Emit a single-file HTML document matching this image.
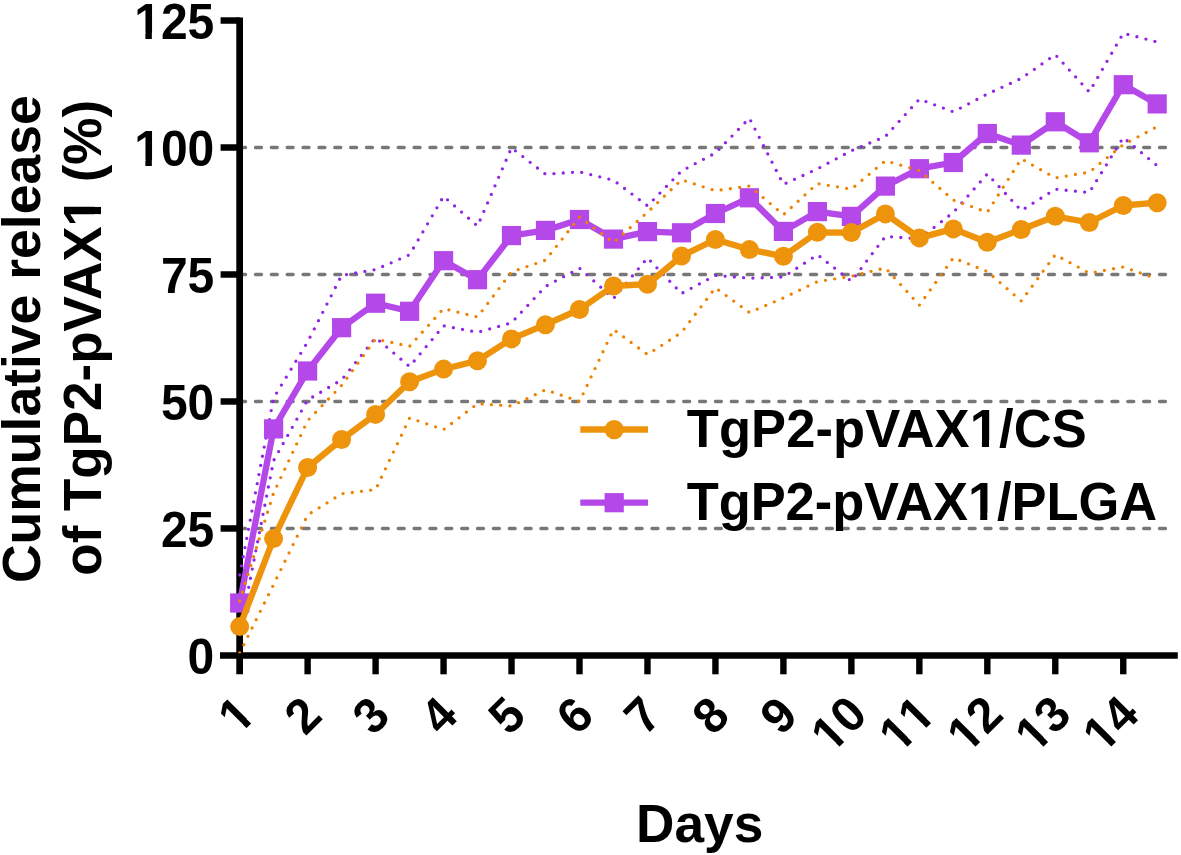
<!DOCTYPE html>
<html lang="en"><head><meta charset="utf-8"><title>Cumulative release of TgP2-pVAX1</title>
<style>
html,body{margin:0;padding:0;background:#fff;}
svg{display:block;}
text{font-family:"Liberation Sans", Arial, Helvetica, sans-serif;font-weight:700;fill:#000;}
.d text{font-kerning:none;}
</style></head><body>
<svg width="1181" height="855" viewBox="0 0 1181 855">
<rect width="1181" height="855" fill="#fff"/>

<g stroke="#777777" stroke-width="3.4" stroke-linecap="round" stroke-dasharray="5.9 9.96" fill="none">
<line x1="239.65" y1="528.46" x2="1168" y2="528.46"/>
<line x1="239.65" y1="401.48" x2="1168" y2="401.48"/>
<line x1="239.65" y1="274.49" x2="1168" y2="274.49"/>
<line x1="239.65" y1="147.50" x2="1168" y2="147.50"/>
</g>
<g stroke="#000" fill="none" stroke-linecap="butt">
<line x1="239.65" y1="17.4" x2="239.65" y2="674.3" stroke-width="6.7"/>
<line x1="220" y1="655.45" x2="1177.8" y2="655.45" stroke-width="6.4"/>
<line x1="220.6" y1="528.46" x2="239.65" y2="528.46" stroke-width="6.5"/>
<line x1="220.6" y1="401.48" x2="239.65" y2="401.48" stroke-width="6.5"/>
<line x1="220.6" y1="274.49" x2="239.65" y2="274.49" stroke-width="6.5"/>
<line x1="220.6" y1="147.50" x2="239.65" y2="147.50" stroke-width="6.5"/>
<line x1="220.6" y1="20.51" x2="239.65" y2="20.51" stroke-width="6.5"/>
<line x1="307.62" y1="655.45" x2="307.62" y2="674.3" stroke-width="6.4"/>
<line x1="375.59" y1="655.45" x2="375.59" y2="674.3" stroke-width="6.4"/>
<line x1="443.56" y1="655.45" x2="443.56" y2="674.3" stroke-width="6.4"/>
<line x1="511.53" y1="655.45" x2="511.53" y2="674.3" stroke-width="6.4"/>
<line x1="579.50" y1="655.45" x2="579.50" y2="674.3" stroke-width="6.4"/>
<line x1="647.47" y1="655.45" x2="647.47" y2="674.3" stroke-width="6.4"/>
<line x1="715.44" y1="655.45" x2="715.44" y2="674.3" stroke-width="6.4"/>
<line x1="783.41" y1="655.45" x2="783.41" y2="674.3" stroke-width="6.4"/>
<line x1="851.38" y1="655.45" x2="851.38" y2="674.3" stroke-width="6.4"/>
<line x1="919.35" y1="655.45" x2="919.35" y2="674.3" stroke-width="6.4"/>
<line x1="987.32" y1="655.45" x2="987.32" y2="674.3" stroke-width="6.4"/>
<line x1="1055.29" y1="655.45" x2="1055.29" y2="674.3" stroke-width="6.4"/>
<line x1="1123.26" y1="655.45" x2="1123.26" y2="674.3" stroke-width="6.4"/>
</g>
<clipPath id="plotclip"><rect x="0" y="0" width="1181" height="653.2"/></clipPath>
<g clip-path="url(#plotclip)">
<g fill="none" stroke="#9024E6" stroke-width="3.3" stroke-linecap="round" stroke-dasharray="0 9.3" stroke-linejoin="round">
<polyline points="239.7,575.0 273.6,398.0 307.6,342.0 341.6,275.4 375.6,269.6 409.6,254.7 443.6,196.3 477.5,226.1 511.5,147.8 545.5,174.2 579.5,171.9 613.5,180.2 647.5,205.8 681.5,171.0 715.4,153.0 749.4,118.2 783.4,184.4 817.4,168.9 851.4,150.7 885.4,136.5 919.4,99.1 953.3,111.8 987.3,94.0 1021.3,78.4 1055.3,54.6 1089.3,92.0 1123.3,33.2 1157.2,42.0"/>
<polyline points="239.7,633.0 273.6,460.6 307.6,400.0 341.6,379.8 375.6,337.7 409.6,366.5 443.6,325.8 477.5,332.3 511.5,322.8 545.5,286.4 579.5,268.2 613.5,298.5 647.5,257.9 681.5,293.5 715.4,275.4 749.4,278.2 783.4,277.0 817.4,254.7 851.4,281.2 885.4,236.4 919.4,238.8 953.3,212.5 987.3,174.0 1021.3,210.6 1055.3,189.2 1089.3,192.5 1123.3,137.5 1157.2,165.7"/>
</g>
<polyline points="239.7,603.0 273.6,428.9 307.6,371.0 341.6,327.7 375.6,303.2 409.6,311.3 443.6,260.7 477.5,279.7 511.5,235.6 545.5,230.4 579.5,219.5 613.5,239.1 647.5,231.6 681.5,232.8 715.4,213.5 749.4,197.8 783.4,231.4 817.4,211.6 851.4,216.4 885.4,186.1 919.4,168.7 953.3,162.5 987.3,133.5 1021.3,145.1 1055.3,121.8 1089.3,142.8 1123.3,84.7 1157.2,103.9" fill="none" stroke="#B548E8" stroke-width="6.3" stroke-linejoin="round"/>
<g fill="#B548E8">
<rect x="230.1" y="593.4" width="19.2" height="19.2"/>
<rect x="264.0" y="419.3" width="19.2" height="19.2"/>
<rect x="298.0" y="361.4" width="19.2" height="19.2"/>
<rect x="332.0" y="318.1" width="19.2" height="19.2"/>
<rect x="366.0" y="293.6" width="19.2" height="19.2"/>
<rect x="400.0" y="301.7" width="19.2" height="19.2"/>
<rect x="434.0" y="251.1" width="19.2" height="19.2"/>
<rect x="467.9" y="270.1" width="19.2" height="19.2"/>
<rect x="501.9" y="226.0" width="19.2" height="19.2"/>
<rect x="535.9" y="220.8" width="19.2" height="19.2"/>
<rect x="569.9" y="209.9" width="19.2" height="19.2"/>
<rect x="603.9" y="229.5" width="19.2" height="19.2"/>
<rect x="637.9" y="222.0" width="19.2" height="19.2"/>
<rect x="671.9" y="223.2" width="19.2" height="19.2"/>
<rect x="705.8" y="203.9" width="19.2" height="19.2"/>
<rect x="739.8" y="188.2" width="19.2" height="19.2"/>
<rect x="773.8" y="221.8" width="19.2" height="19.2"/>
<rect x="807.8" y="202.0" width="19.2" height="19.2"/>
<rect x="841.8" y="206.8" width="19.2" height="19.2"/>
<rect x="875.8" y="176.5" width="19.2" height="19.2"/>
<rect x="909.8" y="159.1" width="19.2" height="19.2"/>
<rect x="943.7" y="152.9" width="19.2" height="19.2"/>
<rect x="977.7" y="123.9" width="19.2" height="19.2"/>
<rect x="1011.7" y="135.5" width="19.2" height="19.2"/>
<rect x="1045.7" y="112.2" width="19.2" height="19.2"/>
<rect x="1079.7" y="133.2" width="19.2" height="19.2"/>
<rect x="1113.7" y="75.1" width="19.2" height="19.2"/>
<rect x="1147.6" y="94.3" width="19.2" height="19.2"/>
</g>
<g fill="none" stroke="#EE8200" stroke-width="3.3" stroke-linecap="round" stroke-dasharray="0 9.3" stroke-linejoin="round">
<polyline points="239.7,601.0 273.6,493.0 307.6,420.7 341.6,385.4 375.6,339.0 409.6,346.3 443.6,308.6 477.5,317.0 511.5,272.0 545.5,260.2 579.5,217.0 613.5,242.6 647.5,212.3 681.5,179.8 715.4,190.7 749.4,186.0 783.4,214.7 817.4,183.5 851.4,189.1 885.4,160.7 919.4,170.7 953.3,200.0 987.3,212.3 1021.3,158.8 1055.3,177.9 1089.3,172.1 1123.3,144.7 1157.2,126.6"/>
<polyline points="239.7,653.0 273.6,584.5 307.6,515.0 341.6,493.8 375.6,489.6 409.6,418.0 443.6,429.6 477.5,403.7 511.5,406.0 545.5,389.8 579.5,401.5 613.5,329.5 647.5,354.5 681.5,332.5 715.4,287.8 749.4,312.5 783.4,297.9 817.4,281.6 851.4,276.2 885.4,268.0 919.4,305.1 953.3,257.9 987.3,271.5 1021.3,301.0 1055.3,254.7 1089.3,273.1 1123.3,267.0 1157.2,278.9"/>
</g>
<polyline points="239.7,626.6 273.6,538.6 307.6,467.5 341.6,439.5 375.6,414.4 409.6,381.8 443.6,369.1 477.5,360.7 511.5,338.9 545.5,324.7 579.5,309.5 613.5,286.0 647.5,284.2 681.5,256.1 715.4,239.5 749.4,249.6 783.4,256.3 817.4,232.3 851.4,232.6 885.4,213.9 919.4,237.9 953.3,228.9 987.3,242.3 1021.3,229.5 1055.3,216.3 1089.3,222.5 1123.3,205.5 1157.2,202.7" fill="none" stroke="#EE940C" stroke-width="6.3" stroke-linejoin="round"/>
<g fill="#EE940C">
<circle cx="239.7" cy="626.6" r="9.5"/>
<circle cx="273.6" cy="538.6" r="9.5"/>
<circle cx="307.6" cy="467.5" r="9.5"/>
<circle cx="341.6" cy="439.5" r="9.5"/>
<circle cx="375.6" cy="414.4" r="9.5"/>
<circle cx="409.6" cy="381.8" r="9.5"/>
<circle cx="443.6" cy="369.1" r="9.5"/>
<circle cx="477.5" cy="360.7" r="9.5"/>
<circle cx="511.5" cy="338.9" r="9.5"/>
<circle cx="545.5" cy="324.7" r="9.5"/>
<circle cx="579.5" cy="309.5" r="9.5"/>
<circle cx="613.5" cy="286.0" r="9.5"/>
<circle cx="647.5" cy="284.2" r="9.5"/>
<circle cx="681.5" cy="256.1" r="9.5"/>
<circle cx="715.4" cy="239.5" r="9.5"/>
<circle cx="749.4" cy="249.6" r="9.5"/>
<circle cx="783.4" cy="256.3" r="9.5"/>
<circle cx="817.4" cy="232.3" r="9.5"/>
<circle cx="851.4" cy="232.6" r="9.5"/>
<circle cx="885.4" cy="213.9" r="9.5"/>
<circle cx="919.4" cy="237.9" r="9.5"/>
<circle cx="953.3" cy="228.9" r="9.5"/>
<circle cx="987.3" cy="242.3" r="9.5"/>
<circle cx="1021.3" cy="229.5" r="9.5"/>
<circle cx="1055.3" cy="216.3" r="9.5"/>
<circle cx="1089.3" cy="222.5" r="9.5"/>
<circle cx="1123.3" cy="205.5" r="9.5"/>
<circle cx="1157.2" cy="202.7" r="9.5"/>
</g>
</g>
<text transform="translate(214.30,674.05) scale(1.0,1.028)" font-size="48" text-anchor="end">0</text>
<text transform="translate(214.30,547.06) scale(1.0,1.028)" font-size="48" text-anchor="end">25</text>
<text transform="translate(214.30,420.08) scale(1.0,1.028)" font-size="48" text-anchor="end">50</text>
<text transform="translate(214.30,293.09) scale(1.0,1.028)" font-size="48" text-anchor="end">75</text>
<g class="d" transform="translate(214.30,166.10) scale(1.0,1.028)"><text font-size="48" text-anchor="end">100</text><g fill="#fff"><rect x="-78.66" y="-6.24" width="9.72" height="8.16"/><rect x="-62.46" y="-6.24" width="8.52" height="8.16"/></g></g>
<g class="d" transform="translate(214.30,39.11) scale(1.0,1.028)"><text font-size="48" text-anchor="end">125</text><g fill="#fff"><rect x="-78.66" y="-6.24" width="9.72" height="8.16"/><rect x="-62.46" y="-6.24" width="8.52" height="8.16"/></g></g>
<g class="d" transform="translate(257.55,717.20) rotate(-45) scale(1.0,1.028)"><text font-size="48" text-anchor="end">1</text><g fill="#fff"><rect x="-25.26" y="-6.24" width="9.72" height="8.16"/><rect x="-9.06" y="-6.24" width="8.52" height="8.16"/></g></g>
<text transform="translate(324.12,718.00) rotate(-45) scale(1.0,1.028)" font-size="48" text-anchor="end">2</text>
<text transform="translate(392.09,718.00) rotate(-45) scale(1.0,1.028)" font-size="48" text-anchor="end">3</text>
<text transform="translate(460.06,718.00) rotate(-45) scale(1.0,1.028)" font-size="48" text-anchor="end">4</text>
<text transform="translate(528.03,718.00) rotate(-45) scale(1.0,1.028)" font-size="48" text-anchor="end">5</text>
<text transform="translate(596.00,718.00) rotate(-45) scale(1.0,1.028)" font-size="48" text-anchor="end">6</text>
<text transform="translate(663.97,718.00) rotate(-45) scale(1.0,1.028)" font-size="48" text-anchor="end">7</text>
<text transform="translate(731.94,718.00) rotate(-45) scale(1.0,1.028)" font-size="48" text-anchor="end">8</text>
<text transform="translate(799.91,718.00) rotate(-45) scale(1.0,1.028)" font-size="48" text-anchor="end">9</text>
<g class="d" transform="translate(869.48,716.80) rotate(-45) scale(1.0,1.028)"><text font-size="48" text-anchor="end">10</text><g fill="#fff"><rect x="-51.96" y="-6.24" width="9.72" height="8.16"/><rect x="-35.76" y="-6.24" width="8.52" height="8.16"/></g></g>
<g class="d" transform="translate(937.45,716.80) rotate(-45) scale(1.0,1.028)"><text font-size="48" text-anchor="end">11</text><g fill="#fff"><rect x="-51.96" y="-6.24" width="9.72" height="8.16"/><rect x="-35.76" y="-6.24" width="8.52" height="8.16"/><rect x="-25.26" y="-6.24" width="9.72" height="8.16"/><rect x="-9.06" y="-6.24" width="8.52" height="8.16"/></g></g>
<g class="d" transform="translate(1005.42,716.80) rotate(-45) scale(1.0,1.028)"><text font-size="48" text-anchor="end">12</text><g fill="#fff"><rect x="-51.96" y="-6.24" width="9.72" height="8.16"/><rect x="-35.76" y="-6.24" width="8.52" height="8.16"/></g></g>
<g class="d" transform="translate(1073.39,716.80) rotate(-45) scale(1.0,1.028)"><text font-size="48" text-anchor="end">13</text><g fill="#fff"><rect x="-51.96" y="-6.24" width="9.72" height="8.16"/><rect x="-35.76" y="-6.24" width="8.52" height="8.16"/></g></g>
<g class="d" transform="translate(1141.36,716.80) rotate(-45) scale(1.0,1.028)"><text font-size="48" text-anchor="end">14</text><g fill="#fff"><rect x="-51.96" y="-6.24" width="9.72" height="8.16"/><rect x="-35.76" y="-6.24" width="8.52" height="8.16"/></g></g>
<text transform="translate(699.70,841.60)" font-size="53.2" text-anchor="middle">Days</text>
<text transform="translate(39.50,339.20) rotate(-90)" font-size="53.5" text-anchor="middle">Cumulative release</text>
<g transform="translate(101.30,337.80) rotate(-90) scale(1.0,1.02)"><text font-size="53" text-anchor="middle">of TgP2-pVAX1 (%)</text><g fill="#fff"><rect x="112.97" y="-6.89" width="10.73" height="9.01"/><rect x="130.85" y="-6.89" width="9.41" height="9.01"/></g></g>
<line x1="580.3" y1="429.5" x2="648" y2="429.5" stroke="#EE940C" stroke-width="6.3"/>
<circle cx="614.2" cy="429.6" r="9.6" fill="#EE940C"/>
<line x1="580.3" y1="502.7" x2="648" y2="502.7" stroke="#B548E8" stroke-width="6.2"/>
<rect x="604.6" y="493.1" width="19.2" height="19.2" fill="#B548E8"/>
<g transform="translate(686.70,447.30) scale(1.0,1.035)"><text font-size="52.5" text-anchor="start" letter-spacing="0.12">TgP2-pVAX1/CS</text><g fill="#fff"><rect x="284.60" y="-6.83" width="10.63" height="8.93"/><rect x="302.32" y="-6.83" width="9.32" height="8.93"/></g></g>
<g transform="translate(686.70,520.00) scale(1.0,1.035)"><text font-size="52.5" text-anchor="start" letter-spacing="-0.07">TgP2-pVAX1/PLGA</text><g fill="#fff"><rect x="282.88" y="-6.83" width="10.63" height="8.93"/><rect x="300.60" y="-6.83" width="9.32" height="8.93"/></g></g>
</svg></body></html>
